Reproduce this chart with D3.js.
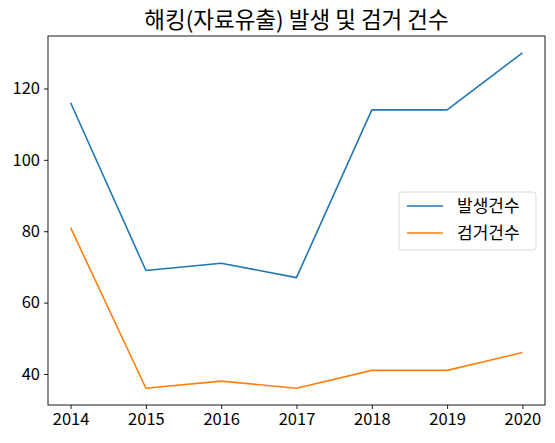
<!DOCTYPE html>
<html>
<head>
<meta charset="utf-8">
<script src="https://cdn.jsdelivr.net/npm/d3@7"></script>
<style>
  body { margin: 0; background: #fff; }
  text { font-family: "Noto Sans CJK KR", sans-serif; fill: #000; }
</style>
</head>
<body>
<div id="chart"></div>
<script>
const years = [2014, 2015, 2016, 2017, 2018, 2019, 2020];
const occurred = [116, 69, 71, 67, 114, 114, 130];
const arrested = [81, 36, 38, 36, 41, 41, 46];
const yTicks = [40, 60, 80, 100, 120];
const seriesNames = ["발생건수", "검거건수"];
const seriesColors = ["#1f77b4", "#ff7f0e"];
const title = "해킹(자료유출) 발생 및 검거 건수";

const W = 555, H = 443;
const margin = ({top: 36, right: 10, bottom: 38, left: 48});
const width = W - margin.left - margin.right,
      height = H - margin.top - margin.bottom;

const svg = d3.select("#chart")
              .append("svg")
              .attr("width", W)
              .attr("height", H);

const g = svg.append("g")
             .attr("transform", `translate(${margin.left},${margin.top})`);

// matplotlib style 5% margins
const xPad = (d3.max(years) - d3.min(years)) * 0.05;
const xScale = d3.scaleLinear()
                 .domain([d3.min(years) - xPad, d3.max(years) + xPad])
                 .range([0, width]);
const allVals = occurred.concat(arrested);
const yMin = d3.min(allVals), yMax = d3.max(allVals);
const yPad = (yMax - yMin) * 0.05;
const yScale = d3.scaleLinear()
                 .domain([yMin - yPad, yMax + yPad])
                 .range([height, 0]);

const xAxis = d3.axisBottom(xScale).tickValues(years).tickFormat(d3.format("d")).tickSize(4).tickPadding(4);
const yAxis = d3.axisLeft(yScale).tickValues(yTicks).tickSize(4).tickPadding(4);

const drawX = g.append("g")
               .attr("transform", `translate(0,${height})`)
               .call(xAxis);
const drawY = g.append("g").call(yAxis);

[drawX, drawY].forEach(a => {
    a.select(".domain").remove();
    a.selectAll("line").attr("stroke", "#000").attr("stroke-width", 0.9);
    a.selectAll("text").style("font-size", "16.5px").attr("fill", "#000");
});

const line = d3.line()
               .x((d, i) => xScale(years[i]))
               .y(d => yScale(d));

[occurred, arrested].forEach((s, i) => {
    g.append("path")
     .datum(s)
     .attr("fill", "none")
     .attr("stroke", seriesColors[i])
     .attr("stroke-width", 1.6)
     .attr("stroke-linejoin", "round")
     .attr("d", line);
});

// frame
g.append("rect")
 .attr("width", width)
 .attr("height", height)
 .attr("fill", "none")
 .attr("stroke", "#000")
 .attr("stroke-width", 0.9);

svg.append("text")
   .attr("x", margin.left + width / 2)
   .attr("y", 28)
   .attr("text-anchor", "middle")
   .style("font-size", "22.5px")
   .text(title);

// legend
const legend = g.append("g")
                .attr("transform", `translate(${width - 146},${156})`);
legend.append("rect")
      .attr("width", 137)
      .attr("height", 58)
      .attr("rx", 3)
      .attr("fill", "#fff")
      .attr("fill-opacity", 0.8)
      .attr("stroke", "#d9d9d9");
seriesNames.forEach((name, i) => {
    const y = 14 + i * 27;
    legend.append("line")
          .attr("x1", 8).attr("x2", 44)
          .attr("y1", y).attr("y2", y)
          .attr("stroke", seriesColors[i])
          .attr("stroke-width", 1.6);
    legend.append("text")
          .attr("x", 58)
          .attr("y", y)
          .attr("dy", "0.35em")
          .style("font-size", "17px")
          .text(name);
});
</script>
</body>
</html>
